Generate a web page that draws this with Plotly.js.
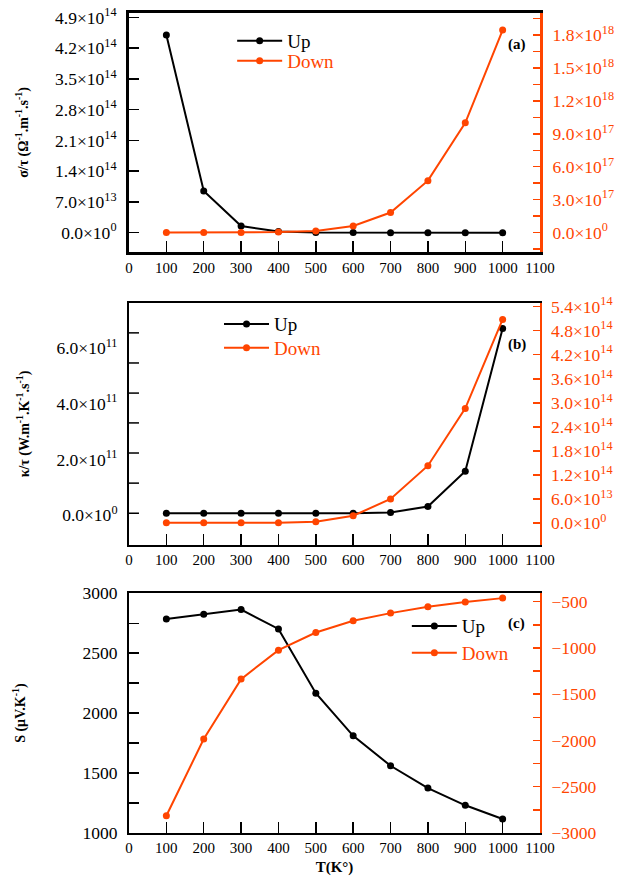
<!DOCTYPE html>
<html>
<head>
<meta charset="utf-8">
<script src="https://cdn.plot.ly/plotly-3.0.1.min.js"></script>
<style>html,body{margin:0;padding:0;background:#fff;}#chart{width:618px;height:882px;}</style>
</head>
<body>
<div id="chart"></div>
<script>
// ---- data ----
var T = [100, 200, 300, 400, 500, 600, 700, 800, 900, 1000];
var sigmaUp   = [4.50e14, 9.5e13, 1.53e13, 2.5e12, 5e11, 2e11, 1e11, 1e11, 1e11, 1e11];
var sigmaDown = [1e15, 1e15, 2e15, 5e15, 1.5e16, 6.1e16, 1.83e17, 4.73e17, 1.0e18, 1.845e18];
var kappaUp   = [7e9, 7e9, 7e9, 7e9, 7e9, 7e9, 1.0e10, 3.1e10, 1.58e11, 6.70e11];
var kappaDown = [4e11, 4e11, 5e11, 8e11, 3.3e12, 1.8e13, 6.0e13, 1.43e14, 2.86e14, 5.08e14];
var SUp   = [2786, 2825, 2864, 2703, 2167, 1811, 1561, 1375, 1231, 1117];
var SDown = [-2813, -1985, -1337, -1024, -834, -707, -624, -555, -505, -462];

var xTickVals = [0, 100, 200, 300, 400, 500, 600, 700, 800, 900, 1000, 1100];
var xTickText = ['0', '100', '200', '300', '400', '500', '600', '700', '800', '900', '1000', '1100'];

var aLeftVals = [0, 7e13, 1.4e14, 2.1e14, 2.8e14, 3.5e14, 4.2e14, 4.9e14];
var aLeftText = ['0.0×10<sup>0</sup>', '7.0×10<sup>13</sup>', '1.4×10<sup>14</sup>', '2.1×10<sup>14</sup>',
                 '2.8×10<sup>14</sup>', '3.5×10<sup>14</sup>', '4.2×10<sup>14</sup>', '4.9×10<sup>14</sup>'];
var aRightVals = [-1.5e17, 0, 1.5e17, 3e17, 4.5e17, 6e17, 7.5e17, 9e17, 1.05e18, 1.2e18, 1.35e18, 1.5e18, 1.65e18, 1.8e18, 1.95e18];
var aRightText = ['', '0.0×10<sup>0</sup>', '', '3.0×10<sup>17</sup>', '', '6.0×10<sup>17</sup>', '', '9.0×10<sup>17</sup>', '',
                  '1.2×10<sup>18</sup>', '', '1.5×10<sup>18</sup>', '', '1.8×10<sup>18</sup>', ''];

// panel (b) left axis: labelled values, and the tick marks as drawn in the original (not aligned with labels)
var bLeftVals = [0, 2e11, 4e11, 6e11];
var bLeftText = ['0.0×10<sup>0</sup>', '2.0×10<sup>11</sup>', '4.0×10<sup>11</sup>', '6.0×10<sup>11</sup>'];
var bLeftMarks = [0.07e11, 1.15e11, 2.23e11, 3.31e11, 4.38e11, 5.46e11, 6.54e11];
var bRightVals = [0, 6e13, 1.2e14, 1.8e14, 2.4e14, 3.0e14, 3.6e14, 4.2e14, 4.8e14, 5.4e14];
var bRightText = ['0.0×10<sup>0</sup>', '6.0×10<sup>13</sup>', '1.2×10<sup>14</sup>', '1.8×10<sup>14</sup>', '2.4×10<sup>14</sup>',
                  '3.0×10<sup>14</sup>', '3.6×10<sup>14</sup>', '4.2×10<sup>14</sup>', '4.8×10<sup>14</sup>', '5.4×10<sup>14</sup>'];

var cLeftVals = [1000, 1250, 1500, 1750, 2000, 2250, 2500, 2750, 3000];
var cLeftText = ['1000', '', '1500', '', '2000', '', '2500', '', '3000'];
var cRightVals = [-3000, -2750, -2500, -2250, -2000, -1750, -1500, -1250, -1000, -750, -500];
var cRightText = ['−3000', '', '−2500', '', '−2000', '', '−1500', '', '−1000', '', '−500'];

// ---- style ----
var BLACK = '#000000';
var ORANGE = '#ff4500';
var FONT = '"Liberation Serif", "Times New Roman", serif';

function trace(x, y, name, color, xa, ya, leg) {
  return {
    x: x, y: y, type: 'scatter', mode: 'lines+markers', name: name,
    xaxis: xa, yaxis: ya, legend: leg,
    line: {color: color, width: 2},
    marker: {color: color, size: 7, symbol: 'circle'}
  };
}
var upName = '<span style="color:#000000">Up</span>';
var downName = '<span style="color:#ff4500">Down</span>';

var data = [
  trace(T, sigmaUp, upName, BLACK, 'x', 'y', 'legend'),
  trace(T, sigmaDown, downName, ORANGE, 'x', 'y2', 'legend2'),
  trace(T, kappaUp, upName, BLACK, 'x2', 'y3', 'legend3'),
  trace(T, kappaDown, downName, ORANGE, 'x2', 'y4', 'legend4'),
  trace(T, SUp, upName, BLACK, 'x3', 'y5', 'legend5'),
  trace(T, SDown, downName, ORANGE, 'x3', 'y6', 'legend6')
];

function xaxis(anchor, lw, title) {
  var ax = {
    anchor: anchor, domain: [0, 1], range: [0, 1100],
    tickmode: 'array', tickvals: xTickVals, ticktext: xTickText,
    ticks: 'inside', ticklen: 11, tickwidth: 1.5, tickcolor: BLACK,
    showline: true, linecolor: BLACK, linewidth: lw, mirror: true,
    showgrid: false, zeroline: false,
    tickfont: {family: FONT, size: 15, color: BLACK}
  };
  if (title) {
    ax.title = {text: title, font: {family: FONT, size: 15, color: BLACK}, standoff: 6};
  }
  return ax;
}
function yleft(anchor, domain, range, vals, text, lw, title, standoff) {
  return {
    anchor: anchor, domain: domain, range: range,
    tickmode: 'array', tickvals: vals, ticktext: text,
    ticks: 'inside', ticklen: 10, tickwidth: 1.5, tickcolor: BLACK,
    showline: true, linecolor: BLACK, linewidth: lw,
    showgrid: false, zeroline: false, ticklabelstandoff: 6,
    tickfont: {family: FONT, size: 17.5, color: BLACK},
    title: {text: title, font: {family: FONT, size: 14, color: BLACK}, standoff: standoff}
  };
}
function yright(anchor, overlay, range, vals, text, lw) {
  return {
    anchor: anchor, overlaying: overlay, side: 'right', range: range,
    tickmode: 'array', tickvals: vals, ticktext: text,
    ticks: 'inside', ticklen: 7, tickwidth: 1.5, tickcolor: ORANGE,
    showline: true, linecolor: ORANGE, linewidth: lw,
    showgrid: false, zeroline: false, ticklabelstandoff: 6,
    tickfont: {family: FONT, size: 17.5, color: ORANGE}
  };
}
function legend(x, y) {
  return {
    x: x, y: y, xanchor: 'left', yanchor: 'middle', xref: 'paper', yref: 'paper',
    bgcolor: 'rgba(0,0,0,0)', borderwidth: 0, itemwidth: 45,
    font: {family: FONT, size: 19, color: BLACK}
  };
}

var yb = yleft('x2', [0.3512, 0.6463], [-1.07e11, 7.61e11], bLeftVals, bLeftText, 2,
               '<b>κ/τ (W.m<sup>-1</sup>.K<sup>-1</sup>.s<sup>-1</sup>)</b>', 24);
yb.tickcolor = 'rgba(0,0,0,0)';

// tick marks of the (b) left axis (placed as in the original figure)
var shapes = bLeftMarks.map(function (v) {
  return {type: 'line', xref: 'x2 domain', yref: 'y3', x0: 0, x1: 0.0243, y0: v, y1: v,
          line: {color: BLACK, width: 1.5}, layer: 'above'};
});

var ann = function (t, y) {
  return {text: '<b>' + t + '</b>', xref: 'paper', yref: 'paper', x: 0.944, y: y, xanchor: 'center', yanchor: 'middle',
          showarrow: false, font: {family: FONT, size: 15, color: BLACK}};
};

var layout = {
  width: 618, height: 882,
  margin: {l: 129, r: 78, t: 13, b: 49},
  paper_bgcolor: '#ffffff', plot_bgcolor: '#ffffff',
  showlegend: true, hovermode: false,
  font: {family: FONT, color: BLACK},
  xaxis: xaxis('y', 3),
  yaxis: yleft('x', [0.7085, 1], [-4.4e13, 5.0e14], aLeftVals, aLeftText, 3,
               '<b>σ/τ (Ω<sup>-1</sup>.m<sup>-1</sup>.s<sup>-1</sup>)</b>', 24),
  yaxis2: yright('x', 'y', [-1.77e17, 2.0e18], aRightVals, aRightText, 3),
  xaxis2: xaxis('y3', 2),
  yaxis3: yb,
  yaxis4: yright('x2', 'y3', [-5.5e13, 5.49e14], bRightVals, bRightText, 1.5),
  xaxis3: xaxis('y5', 2, '<b>T(K°)</b>'),
  yaxis5: yleft('x3', [0, 0.2923], [1000, 3000], cLeftVals, cLeftText, 2,
               '<b>S (μV.K<sup>-1</sup>)</b>', 54),
  yaxis6: yright('x3', 'y5', [-3000, -410], cRightVals, cRightText, 2),
  legend:  legend(0.251, 0.9659),
  legend2: legend(0.251, 0.9415),
  legend3: legend(0.219, 0.6207),
  legend4: legend(0.219, 0.5915),
  legend5: legend(0.676, 0.2524),
  legend6: legend(0.676, 0.2195),
  shapes: shapes,
  annotations: [ann('(a)', 0.961), ann('(b)', 0.5963), ann('(c)', 0.256)]
};

Plotly.newPlot('chart', data, layout, {displayModeBar: false, staticPlot: true});
</script>
</body>
</html>
